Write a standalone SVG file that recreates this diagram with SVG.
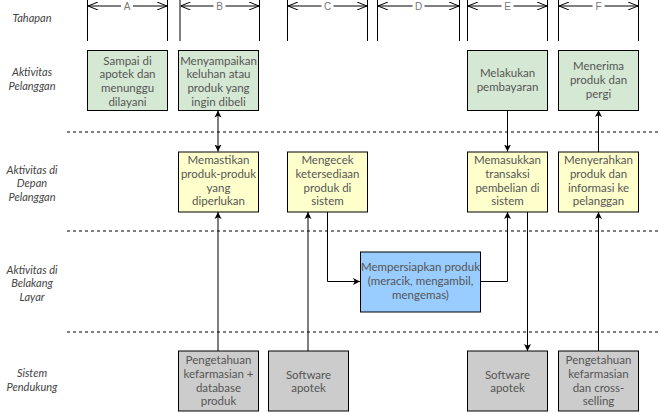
<svg xmlns="http://www.w3.org/2000/svg" width="659" height="412" viewBox="0 0 659 412">
<style>
.box{stroke:#000;stroke-width:1}
.g{fill:#d5e8d4}.y{fill:#ffffcc}.b{fill:#99ccff}.s{fill:#cccccc}
.t{font-family:Lato,"Open Sans",sans-serif;font-size:11.5px;fill:#555;text-anchor:middle}
.lb{font-family:Lato,"Open Sans",sans-serif;font-style:italic;font-size:11px;fill:#444;text-anchor:middle}
.hd{font-family:"Liberation Sans",Arial,sans-serif;font-size:10px;fill:#777;text-anchor:middle}
.ln{stroke:#000;stroke-width:1;fill:none}
.dash{stroke:#000;stroke-width:1;stroke-dasharray:3 3;fill:none}
.c{stroke:#000;stroke-width:1;fill:none;marker-end:url(#ar)}
</style>
<defs>
<marker id="ar" viewBox="0 0 10 10" refX="10" refY="5" markerWidth="7" markerHeight="8" markerUnits="userSpaceOnUse" orient="auto-start-reverse">
<path d="M0,0 L10,5 L0,10 L2.5,5 z" fill="#000"/>
</marker>
<marker id="op" viewBox="0 0 10 8" refX="10" refY="4" markerWidth="10" markerHeight="8" markerUnits="userSpaceOnUse" orient="auto-start-reverse">
<path d="M0,0 L10,4 L0,8" fill="none" stroke="#000" stroke-width="1"/>
</marker>
</defs>
<rect width="659" height="412" fill="#fff"/>

<g id="lanes">
<line class="dash" x1="67" y1="132" x2="659" y2="132"/>
<line class="dash" x1="67" y1="231" x2="659" y2="231"/>
<line class="dash" x1="67" y1="332" x2="659" y2="332"/>
</g>

<g id="lane-labels">
<text class="lb" x="32" y="22">Tahapan</text>
<text class="lb"><tspan x="32" y="76">Aktivitas</tspan><tspan x="32" y="90">Pelanggan</tspan></text>
<text class="lb"><tspan x="32" y="173.5">Aktivitas di</tspan><tspan x="32" y="187">Depan</tspan><tspan x="32" y="200.5">Pelanggan</tspan></text>
<text class="lb"><tspan x="32" y="273.5">Aktivitas di</tspan><tspan x="32" y="287">Belakang</tspan><tspan x="32" y="300.5">Layar</tspan></text>
<text class="lb"><tspan x="32" y="377">Sistem</tspan><tspan x="32" y="391">Pendukung</tspan></text>
</g>

<g id="stages">
<g id="stage-A">
<line class="ln" x1="87.5" y1="0" x2="87.5" y2="41"/><line class="ln" x1="167.5" y1="0" x2="167.5" y2="41"/>
<line class="ln" x1="88" y1="6" x2="121" y2="6" marker-start="url(#op)"/><line class="ln" x1="133" y1="6" x2="167" y2="6" marker-end="url(#op)"/>
<text class="hd" x="127" y="9.5">A</text>
</g>
<g id="stage-B">
<line class="ln" x1="180" y1="0" x2="180" y2="41"/><line class="ln" x1="259.5" y1="0" x2="259.5" y2="41"/>
<line class="ln" x1="180.5" y1="6" x2="213.5" y2="6" marker-start="url(#op)"/><line class="ln" x1="225.5" y1="6" x2="259" y2="6" marker-end="url(#op)"/>
<text class="hd" x="219.5" y="9.5">B</text>
</g>
<g id="stage-C">
<line class="ln" x1="287.5" y1="0" x2="287.5" y2="41"/><line class="ln" x1="367.5" y1="0" x2="367.5" y2="41"/>
<line class="ln" x1="288" y1="6" x2="321.5" y2="6" marker-start="url(#op)"/><line class="ln" x1="333.5" y1="6" x2="367" y2="6" marker-end="url(#op)"/>
<text class="hd" x="327.5" y="9.5">C</text>
</g>
<g id="stage-D">
<line class="ln" x1="377.5" y1="0" x2="377.5" y2="41"/><line class="ln" x1="459.5" y1="0" x2="459.5" y2="41"/>
<line class="ln" x1="378" y1="6" x2="412.5" y2="6" marker-start="url(#op)"/><line class="ln" x1="424.5" y1="6" x2="459" y2="6" marker-end="url(#op)"/>
<text class="hd" x="418.5" y="9.5">D</text>
</g>
<g id="stage-E">
<line class="ln" x1="467.5" y1="0" x2="467.5" y2="41"/><line class="ln" x1="547.5" y1="0" x2="547.5" y2="41"/>
<line class="ln" x1="468" y1="6" x2="501.5" y2="6" marker-start="url(#op)"/><line class="ln" x1="513.5" y1="6" x2="547" y2="6" marker-end="url(#op)"/>
<text class="hd" x="507.5" y="9.5">E</text>
</g>
<g id="stage-F">
<line class="ln" x1="558.5" y1="0" x2="558.5" y2="41"/><line class="ln" x1="638.5" y1="0" x2="638.5" y2="41"/>
<line class="ln" x1="559" y1="6" x2="592.5" y2="6" marker-start="url(#op)"/><line class="ln" x1="604.5" y1="6" x2="638" y2="6" marker-end="url(#op)"/>
<text class="hd" x="598.5" y="9.5">F</text>
</g>
</g>

<g id="connectors">
<line class="c" x1="218" y1="110.5" x2="218" y2="151.5" marker-start="url(#ar)"/>
<line class="c" x1="218" y1="351" x2="218" y2="212"/>
<line class="c" x1="308" y1="351" x2="308" y2="212"/>
<polyline class="c" points="327.5,212 327.5,281.5 360,281.5"/>
<polyline class="c" points="480,281.5 507.5,281.5 507.5,212"/>
<line class="c" x1="507.5" y1="110" x2="507.5" y2="151.5"/>
<line class="c" x1="527.5" y1="212" x2="527.5" y2="351"/>
<line class="c" x1="598.5" y1="351" x2="598.5" y2="212"/>
<line class="c" x1="598.5" y1="152" x2="598.5" y2="110"/>
</g>

<g id="node-a1"><rect class="box g" x="87.5" y="50.5" width="80" height="60"/>
<text class="t"><tspan x="127.5" y="64.5">Sampai di</tspan><tspan x="127.5" y="78.3">apotek dan</tspan><tspan x="127.5" y="92.1">menunggu</tspan><tspan x="127.5" y="105.9">dilayani</tspan></text></g>
<g id="node-b1"><rect class="box g" x="178.5" y="50.5" width="80" height="60"/>
<text class="t"><tspan x="218.5" y="64.5">Menyampaikan</tspan><tspan x="218.5" y="78.3">keluhan atau</tspan><tspan x="218.5" y="92.1">produk yang</tspan><tspan x="218.5" y="105.9">ingin dibeli</tspan></text></g>
<g id="node-e1"><rect class="box g" x="467.5" y="50.5" width="80" height="60"/>
<text class="t"><tspan x="507.5" y="76.7">Melakukan</tspan><tspan x="507.5" y="90.5">pembayaran</tspan></text></g>
<g id="node-f1"><rect class="box g" x="558.5" y="50.5" width="80" height="60"/>
<text class="t"><tspan x="598.5" y="70.3">Menerima</tspan><tspan x="598.5" y="84.1">produk dan</tspan><tspan x="598.5" y="97.9">pergi</tspan></text></g>

<g id="node-b2"><rect class="box y" x="178.5" y="152" width="80" height="60"/>
<text class="t"><tspan x="218.5" y="164">Memastikan</tspan><tspan x="218.5" y="177.8">produk-produk</tspan><tspan x="218.5" y="191.6">yang</tspan><tspan x="218.5" y="205.4">diperlukan</tspan></text></g>
<g id="node-c2"><rect class="box y" x="287.5" y="152" width="80" height="60"/>
<text class="t"><tspan x="327.5" y="164">Mengecek</tspan><tspan x="327.5" y="177.8">ketersediaan</tspan><tspan x="327.5" y="191.6">produk di</tspan><tspan x="327.5" y="205.4">sistem</tspan></text></g>
<g id="node-e2"><rect class="box y" x="467.5" y="152" width="80" height="60"/>
<text class="t"><tspan x="507.5" y="164">Memasukkan</tspan><tspan x="507.5" y="177.8">transaksi</tspan><tspan x="507.5" y="191.6">pembelian di</tspan><tspan x="507.5" y="205.4">sistem</tspan></text></g>
<g id="node-f2"><rect class="box y" x="558.5" y="152" width="80" height="60"/>
<text class="t"><tspan x="598.5" y="164">Menyerahkan</tspan><tspan x="598.5" y="177.8">produk dan</tspan><tspan x="598.5" y="191.6">informasi ke</tspan><tspan x="598.5" y="205.4">pelanggan</tspan></text></g>

<g id="node-d3"><rect class="box b" x="360.5" y="252" width="120" height="60"/>
<text class="t"><tspan x="420.5" y="271">Mempersiapkan produk</tspan><tspan x="420.5" y="285">(meracik, mengambil,</tspan><tspan x="420.5" y="299">mengemas)</tspan></text></g>

<g id="node-b4"><rect class="box s" x="178.5" y="351" width="80" height="60"/>
<text class="t"><tspan x="218.5" y="364">Pengetahuan</tspan><tspan x="218.5" y="377.8">kefarmasian +</tspan><tspan x="218.5" y="391.6">database</tspan><tspan x="218.5" y="405.4">produk</tspan></text></g>
<g id="node-c4"><rect class="box s" x="268.5" y="351" width="80" height="60"/>
<text class="t"><tspan x="308.5" y="378.5">Software</tspan><tspan x="308.5" y="392.3">apotek</tspan></text></g>
<g id="node-e4"><rect class="box s" x="467.5" y="351" width="80" height="60"/>
<text class="t"><tspan x="507.5" y="378.5">Software</tspan><tspan x="507.5" y="392.3">apotek</tspan></text></g>
<g id="node-f4"><rect class="box s" x="558.5" y="351" width="80" height="60"/>
<text class="t"><tspan x="598.5" y="364">Pengetahuan</tspan><tspan x="598.5" y="377.8">kefarmasian</tspan><tspan x="598.5" y="391.6">dan cross-</tspan><tspan x="598.5" y="405.4">selling</tspan></text></g>
</svg>
